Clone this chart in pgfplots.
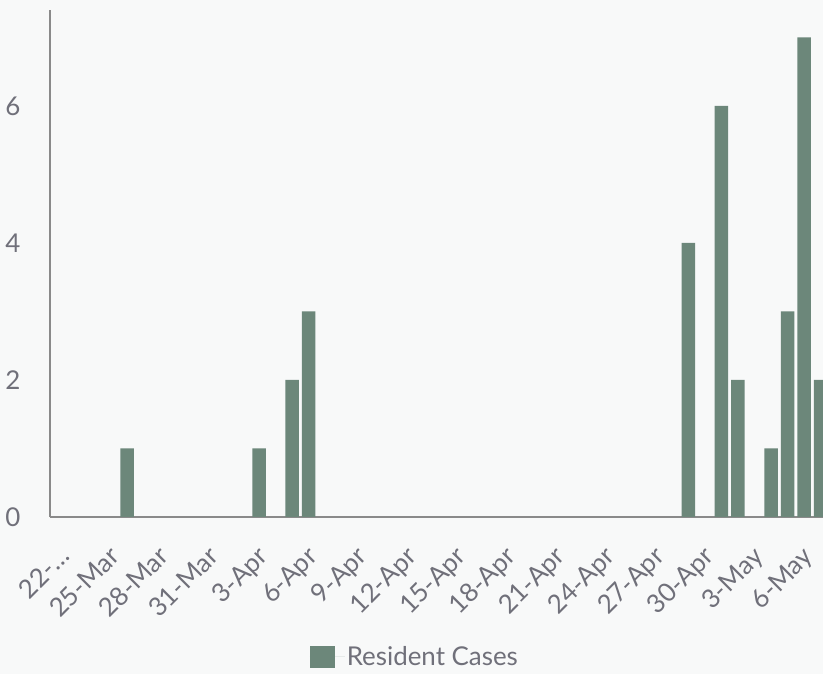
\documentclass[border=0pt]{standalone}
\usepackage{fontspec}
\setmainfont{Lato}
\usepackage{pgfplots}
\pgfplotsset{compat=1.18}
\definecolor{barcol}{HTML}{6C877A}
\definecolor{bgcol}{HTML}{F8F9F9}
\definecolor{txtcol}{HTML}{70707A}
\definecolor{axcol}{HTML}{8A8A8A}

\begin{document}
\begin{tikzpicture}
  \path[use as bounding box, fill=bgcol] (0,0) rectangle (823bp,674bp);
  \begin{axis}[
    at={(50bp,157bp)}, anchor=south west,
    scale only axis,
    width=773bp, height=507bp,
    axis lines=left,
    axis line style={axcol, line width=1.2bp, -},
    xmin=-0.67, xmax=46.15,
    ymin=0, ymax=7.4,
    ytick={0,2,4,6},
    xtick={0,3,...,45},
    xticklabels={22-\dots,25-Mar,28-Mar,31-Mar,3-Apr,6-Apr,9-Apr,12-Apr,15-Apr,18-Apr,21-Apr,24-Apr,27-Apr,30-Apr,3-May,6-May},
    major tick length=0pt,
    /pgf/number format/assume math mode=true,
    tick label style={font=\fontsize{26}{30}\selectfont, text=txtcol},
    xticklabel style={yshift=-23bp, xshift=-3bp, rotate=45, anchor=north east},
    yticklabel style={xshift=-26bp},
    clip=true,
    legend style={at={(0.472,-0.276)}, anchor=center, draw=none, fill=none,
      font=\fontsize{26}{30}\selectfont, text=txtcol},
    legend image code/.code={\fill[barcol] (0bp,-11bp) rectangle (25bp,11bp);
      \path (0bp,0bp) -- (35bp,0bp);},
  ]
    \addplot[ybar, bar width=13.5bp, fill=barcol, draw=none]
      coordinates {
        (4,1) (12,1) (14,2) (15,3) (38,4) (40,6) (41,2) (43,1) (44,3) (45,7) (46,2)
      };
    \addlegendentry{Resident Cases}
  \end{axis}
\end{tikzpicture}
\end{document}
